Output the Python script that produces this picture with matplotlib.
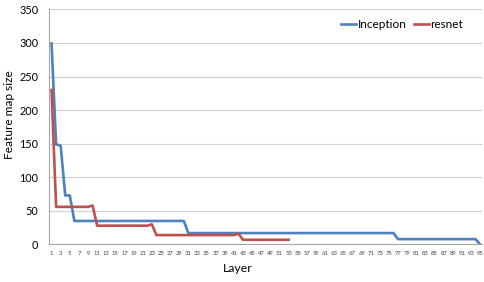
import numpy as np
import matplotlib
matplotlib.use("Agg")
import matplotlib.pyplot as plt

plt.rcParams['font.family'] = ['Lato', 'DejaVu Sans']

# feature map size per layer
inception = [299, 149, 147, 73, 73] + [35] * 25 + [17] * 46 + [8] * 18 + [0]
resnet = [230] + [56] * 8 + [58] + [28] * 12 + [30] + [14] * 18 + [16] + [7] * 11
inception_layers = np.arange(1, len(inception) + 1)
resnet_layers = np.arange(1, len(resnet) + 1)

W, H = 485, 282
fig = plt.figure(figsize=(W / 100, H / 100), dpi=100)
ax = fig.add_axes([0.1016, 0.133, 0.893, 0.834])

ax.plot(inception_layers, inception, color='#4F81BD', lw=1.9, label='Inception')
ax.plot(resnet_layers, resnet, color='#C0504D', lw=1.9, label='resnet')

ax.set_xlim(0.5, 95.5)
ax.set_ylim(0, 350)
ax.set_yticks(np.arange(0, 351, 50))
ax.set_xticks(np.arange(1, 96, 2))
ax.tick_params(axis='x', labelsize=4.2, length=0, pad=4.5, colors='#404040')
ax.tick_params(axis='y', labelsize=7.8, length=0, pad=8)
ax.grid(axis='y', color='#D0D0D0', lw=0.8)
ax.set_axisbelow(True)
for s in ['top', 'right']:
    ax.spines[s].set_visible(False)
for s in ['left', 'bottom']:
    ax.spines[s].set_color('#A6A6A6')
    ax.spines[s].set_linewidth(0.8)

# axis titles placed like the Excel chart
fig.text(238 / W, 1 - 268 / H, 'Layer', fontsize=8.8, ha='center', va='center')
fig.text(10 / W, 1 - 115 / H, 'Feature map size', fontsize=8.6, rotation=90,
         ha='center', va='center')

ax.legend(loc='center', bbox_to_anchor=(402 / W, 1 - 25 / H), bbox_transform=fig.transFigure,
          ncol=2, frameon=False, fontsize=8.5, handlelength=1.3, handletextpad=0.1,
          columnspacing=0.6)

fig.savefig('out.png', dpi=100)
